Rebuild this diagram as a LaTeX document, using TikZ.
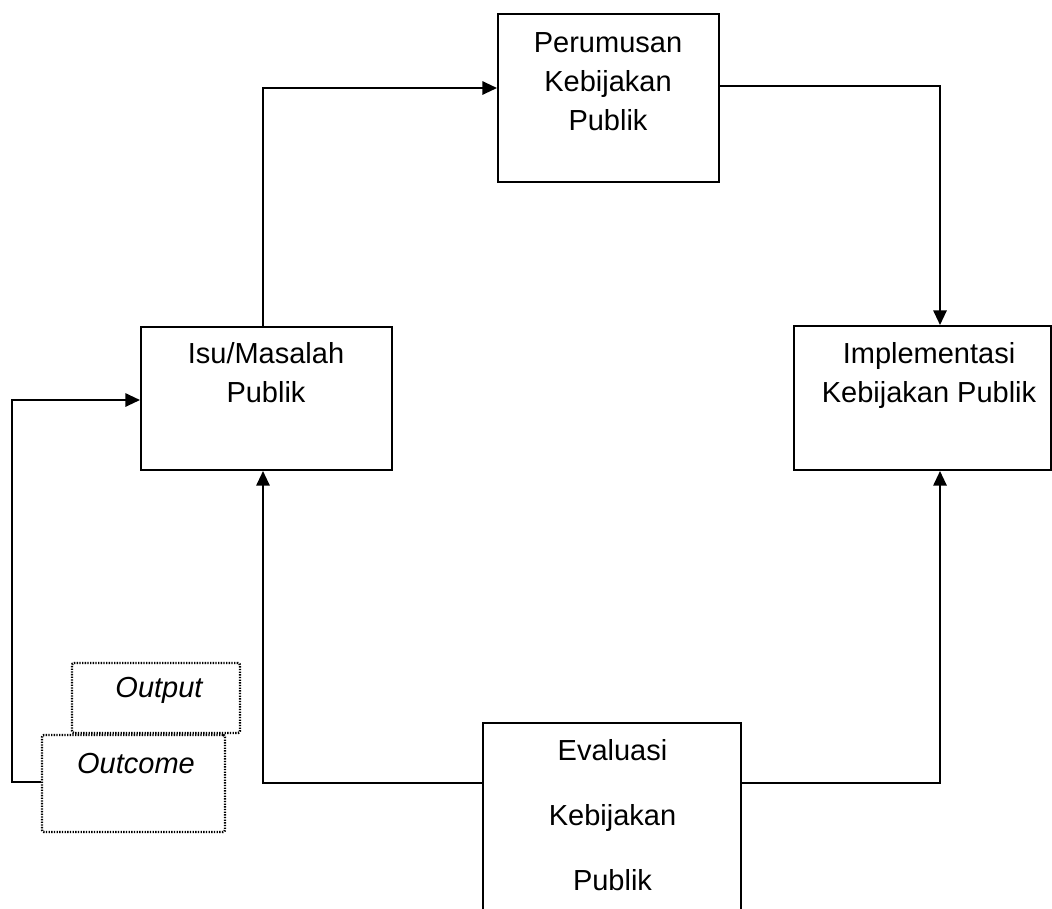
\documentclass[tikz,border=0pt]{standalone}
\usepackage{fontspec}
\setmainfont{Liberation Sans}
\usetikzlibrary{arrows.meta}
\begin{document}
\begin{tikzpicture}[x=0.75pt,y=-0.75pt,
  box/.style={draw,line width=1.5pt,rectangle,inner sep=0pt,fill=white},
  dotbox/.style={draw,line width=1.8pt,dash pattern=on 1pt off 1pt,rectangle,rounded corners=1.5pt,inner sep=0pt,fill=white},
  txt/.style={anchor=north,inner sep=0pt,align=center,font=\fontsize{21.75pt}{29.25pt}\selectfont},
  wtxt/.style={anchor=north,inner sep=0pt,align=center,font=\fontsize{21.75pt}{48.75pt}\selectfont},
  itxt/.style={anchor=north,inner sep=0pt,font=\fontsize{21.75pt}{29.25pt}\selectfont\itshape},
  arr/.style={line width=1.5pt,-{Triangle[length=11pt,width=10pt]}}]
\useasboundingbox (0,0) rectangle (1052,908);
% boxes
\node[box,minimum width=165.75pt,minimum height=126pt] (per) at (608.5,98) {};
\node[box,minimum width=188.25pt,minimum height=107.25pt] (isu) at (266.5,398.5) {};
\node[box,minimum width=192.75pt,minimum height=108pt] (impl) at (922.5,398) {};
\node[box,minimum width=193.5pt,minimum height=147.75pt] (eval) at (612,821.5) {};
% texts
\node[txt] (pert) at (608,32) {Perumusan\\Kebijakan\\Publik};
\node[txt] (isut) at (266,342) {Isu/Masalah\\Publik};
\node[txt] (implt) at (929,342) {Implementasi\\Kebijakan Publik};
\node[wtxt] (evalt) at (612.5,739) {Evaluasi\\Kebijakan\\Publik};
% coordinates for routing
\coordinate (c1) at (263,88);
\coordinate (c2) at (940,86);
\coordinate (c3) at (940,783);
\coordinate (c4) at (263,783);
\coordinate (c5) at (12,782);
\coordinate (c6) at (12,400);
% connectors
\draw[arr] (c1 |- isu.north) -- (c1) -- (c1 -| per.west);
\draw[arr] (c2 -| per.east) -- (c2) -- (c2 |- impl.north);
\draw[arr] (c3 -| eval.east) -- (c3) -- (c3 |- impl.south);
\draw[arr] (c4 -| eval.west) -- (c4) -- (c4 |- isu.south);
% dotted boxes
\node[dotbox,minimum width=126pt,minimum height=52.5pt] (outp) at (156,698) {};
\node[dotbox,minimum width=137.25pt,minimum height=72.75pt] (outc) at (133.5,783.5) {};
\node[itxt] (outpt) at (159,677) {Output};
\node[itxt] (outct) at (136,753) {Outcome};
\draw[arr] (c5 -| outc.west) -- (c5) -- (c6) -- (c6 -| isu.west);
\end{tikzpicture}
\end{document}
